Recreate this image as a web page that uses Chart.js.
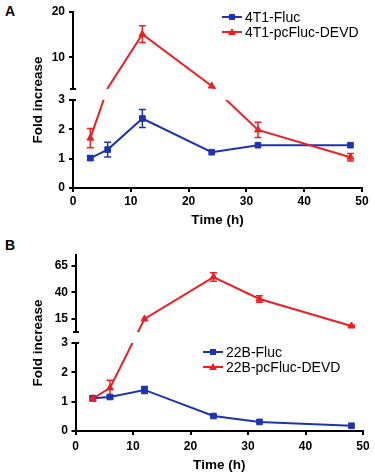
<!DOCTYPE html>
<html>
<head>
<meta charset="utf-8">
<script src="https://cdn.jsdelivr.net/npm/chart.js@4.4.1/dist/chart.umd.min.js"></script>
<style>
  body { margin: 0; background: #fff; width: 375px; height: 474px; position: relative; overflow: hidden;
         font-family: "Liberation Sans", Arial, sans-serif; color: #000; }
  canvas { position: absolute; left: 0; }
  .panel { position: absolute; left: 5px; font-weight: bold; font-size: 14px; line-height: 14px; }
  .legend { position: absolute; font-size: 14px; }
  .item { display: flex; align-items: center; height: 15px; white-space: nowrap; }
  .swatch { position: relative; width: 20px; height: 2px; margin-right: 3px; }
  .swatch i { position: absolute; left: 7px; top: -2px; width: 6px; height: 6px; background: currentColor; }
  .swatch i.tri { width: 0; height: 0; left: 6px; top: -3px; background: none;
                  border-left: 4px solid transparent; border-right: 4px solid transparent; border-bottom: 7px solid currentColor; }
</style>
</head>
<body>
<div class="panel" style="top:4px">A</div>
<div class="panel" style="top:238px">B</div>
<canvas id="chartA" width="375" height="232" style="top:0"></canvas>
<canvas id="chartB" width="375" height="232" style="top:242px"></canvas>
<div class="legend" id="legendA" style="left:222px; top:9px"></div>
<div class="legend" id="legendB" style="left:203px; top:344px"></div>
<script>
// time points (h)
const hours = [3, 6, 12, 24, 32, 48];
const xTicks = [0, 10, 20, 30, 40, 50];

// panel A: 4T1 cells
const flucA = [1.02, 1.31, 2.37, 1.22, 1.46, 1.46];
const flucAErr = [0.07, 0.25, 0.31, 0, 0, 0];
const devdA = [1.7, 3.2, 15.1, 3.65, 1.98, 1.05];
const devdAErr = [0.33, 0, 1.85, 0, 0.26, 0.13];
const yTicksA = [0, 1, 2, 3, 10, 20];

// panel B: 22B cells
const flucB = [1.12, 1.16, 1.40, 0.51, 0.31, 0.18];
const flucBErr = [0.05, 0.05, 0.12, 0, 0, 0];
const devdB = [1.1, 1.47, 15.2, 54.4, 33.9, 8.6];
const devdBErr = [0.08, 0.26, 0, 4, 3, 0.8];
const yTicksB = [0, 1, 2, 3, 15, 40, 65];

const BLUE = "#1c34b2";
const RED = "#ee1f22";
const FONT = "'Liberation Sans', Arial, sans-serif";

// linear axis with a break: values up to `at` use the lower part, the rest the upper part
class BrokenAxis extends Chart.LinearScale {
  static id = "brokenAxis";
  static defaults = {};

  gapPixels() {
    const b = this.options.broken;
    const lowerH = (this.bottom - this.top - b.gap) * b.lowerShare;
    const lowerTop = this.bottom - lowerH;
    return [lowerTop - b.gap, lowerTop];
  }

  getPixelForValue(v) {
    if (v === null || v === undefined || isNaN(v)) return NaN;
    const at = this.options.broken.at;
    const [upperBottom, lowerTop] = this.gapPixels();
    if (v <= at) return this.bottom - (v - this.min) / (at - this.min) * (this.bottom - lowerTop);
    return upperBottom - (v - at) / (this.max - at) * (upperBottom - this.top);
  }

  getValueForPixel(p) {
    const at = this.options.broken.at;
    const [upperBottom, lowerTop] = this.gapPixels();
    if (p >= lowerTop) return this.min + (this.bottom - p) / (this.bottom - lowerTop) * (at - this.min);
    return at + (upperBottom - p) / (upperBottom - this.top) * (this.max - at);
  }

  drawBorder() {
    const [upperBottom, lowerTop] = this.gapPixels();
    const { top, bottom } = this;
    this.bottom = upperBottom;
    super.drawBorder();
    this.bottom = bottom;
    this.top = lowerTop;
    super.drawBorder();
    this.top = top;

    // small caps at both ends of the break
    const x = this._borderValue;
    const ctx = this.ctx;
    ctx.save();
    ctx.strokeStyle = "#000";
    ctx.lineWidth = 2;
    ctx.beginPath();
    ctx.moveTo(x - 3, upperBottom); ctx.lineTo(x + 3, upperBottom);
    ctx.moveTo(x - 3, lowerTop); ctx.lineTo(x + 3, lowerTop);
    ctx.stroke();
    ctx.restore();
  }
}
Chart.register(BrokenAxis);

// hide whatever passes through the break
const gapClip = {
  id: "gapClip",
  beforeDatasetsDraw(chart) {
    const [a, b] = chart.scales.y.gapPixels();
    const ctx = chart.ctx;
    ctx.save();
    ctx.beginPath();
    ctx.rect(0, 0, chart.width, a);
    ctx.rect(0, b, chart.width, chart.height - b);
    ctx.clip();
  },
  afterDatasetsDraw(chart) {
    chart.ctx.restore();
  }
};

function errorPoints(values, errs) {
  const pts = [];
  hours.forEach((h, i) => {
    if (!errs[i]) return;
    pts.push({ x: h, y: values[i] - errs[i] }, { x: h, y: values[i] + errs[i] }, { x: h, y: null });
  });
  return pts;
}

function markerRadius(c) {
  if (c.type !== "data" || !c.parsed) return 4;
  const s = c.chart.scales.y;
  const p = s.getPixelForValue(c.parsed.y);
  const [a, b] = s.gapPixels();
  return p > a - 2 && p < b + 2 ? 0 : 4;
}

function mainSet(label, values, color, style) {
  return {
    label: label,
    data: hours.map((h, i) => ({ x: h, y: values[i] })),
    borderColor: color,
    backgroundColor: color,
    borderWidth: 2,
    tension: 0,
    pointStyle: style,
    pointRadius: markerRadius,
    pointBorderWidth: 1
  };
}

function errSet(values, errs, color) {
  return {
    label: "err",
    data: errorPoints(values, errs),
    borderColor: color,
    borderWidth: 1.5,
    spanGaps: false,
    pointStyle: "line",
    pointRadius: 3.5,
    pointBorderColor: color,
    pointBorderWidth: 1.5
  };
}

function drawPanel(id, cfg) {
  const tickFont = { family: FONT, size: 12, weight: "bold" };
  const titleFont = { family: FONT, size: 13.5, weight: "bold" };
  const border = { color: "#000", width: 2 };
  const grid = { drawOnChartArea: false, color: "#000", lineWidth: 2, tickLength: 4 };

  new Chart(document.getElementById(id), {
    type: "line",
    data: {
      datasets: [
        mainSet(cfg.names[1], cfg.red, RED, "triangle"),
        mainSet(cfg.names[0], cfg.blue, BLUE, "rect"),
        errSet(cfg.red, cfg.redErr, RED),
        errSet(cfg.blue, cfg.blueErr, BLUE)
      ]
    },
    options: {
      responsive: false,
      animation: false,
      layout: { padding: { left: 0, top: cfg.top, right: cfg.right, bottom: 0 } },
      plugins: { legend: { display: false }, tooltip: { enabled: false } },
      scales: {
        x: {
          type: "linear",
          min: 0,
          max: 50,
          afterBuildTicks: (s) => { s.ticks = xTicks.map((v) => ({ value: v })); },
          afterFit: (s) => { s.height = cfg.xHeight; },
          border: border,
          grid: grid,
          ticks: { color: "#000", font: tickFont, padding: cfg.xPad, autoSkip: false, maxRotation: 0 },
          title: { display: true, text: "Time (h)", color: "#000", font: titleFont, padding: { top: 0, bottom: cfg.titleBottom } }
        },
        y: {
          type: "brokenAxis",
          min: 0,
          max: cfg.yMax,
          broken: { at: 3, gap: 11, lowerShare: 88 / 165 },
          afterBuildTicks: (s) => { s.ticks = cfg.yTicks.map((v) => ({ value: v })); },
          afterFit: (s) => { s.width = cfg.left; },
          border: border,
          grid: grid,
          ticks: { color: "#000", font: tickFont, padding: cfg.yPad, autoSkip: false, callback: (v) => String(v) },
          title: { display: true, text: "Fold increase", color: "#000", font: titleFont, padding: { top: 30, bottom: 0 } }
        }
      }
    },
    plugins: [gapClip]
  });

  const legend = document.getElementById(cfg.legend);
  [[cfg.names[0], BLUE, ""], [cfg.names[1], RED, "tri"]].forEach(([name, color, cls]) => {
    const row = document.createElement("div");
    row.className = "item";
    row.innerHTML = '<span class="swatch" style="background:' + color + ';color:' + color + '"><i class="' + cls + '"></i></span>' + name;
    legend.appendChild(row);
  });
}

drawPanel("chartA", {
  names: ["4T1-Fluc", "4T1-pcFluc-DEVD"],
  blue: flucA, blueErr: flucAErr, red: devdA, redErr: devdAErr,
  yTicks: yTicksA, yMax: 20,
  top: 12, right: 13, left: 73, xHeight: 44, xPad: 2, yPad: 4, titleBottom: 4,
  legend: "legendA"
});

drawPanel("chartB", {
  names: ["22B-Fluc", "22B-pcFluc-DEVD"],
  blue: flucB, blueErr: flucBErr, red: devdB, redErr: devdBErr,
  yTicks: yTicksB, yMax: 75,
  top: 13, right: 12, left: 75.5, xHeight: 43, xPad: 4, yPad: 3.5, titleBottom: 1,
  legend: "legendB"
});
</script>
</body>
</html>
